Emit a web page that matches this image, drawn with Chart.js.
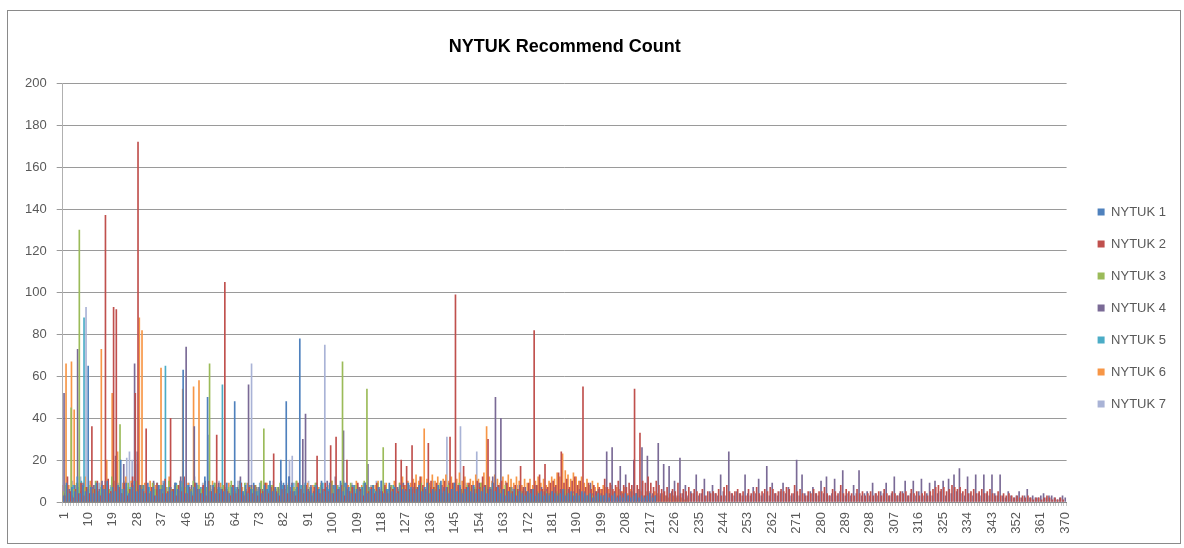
<!DOCTYPE html>
<html>
<head>
<meta charset="utf-8">
<script src="https://cdn.jsdelivr.net/npm/chart.js@4.4.1/dist/chart.umd.min.js"></script>
<style>
  html, body { margin: 0; padding: 0; background: #fff; }
  canvas { display: block; }
</style>
</head>
<body>
<canvas id="myChart" width="1184" height="548"></canvas>
<script>
// category labels 1..370, a tick label shown on every 9th
const categories = Array.from({ length: 370 }, (_, i) => String(i + 1));
const tickEvery = 9;
const yTicks = { min: 0, max: 200, step: 20 };

const seriesNames = ["NYTUK 1", "NYTUK 2", "NYTUK 3", "NYTUK 4", "NYTUK 5", "NYTUK 6", "NYTUK 7"];
const seriesColors = ["#4f81bd", "#c0504d", "#9bbb59", "#7a6a96", "#4bacc6", "#f79646", "#a9b3d6"];

// values (estimates)
const nytuk1 = [
  6, 3, 9, 4, 7, 5, 12, 4, 8, 5,
  65, 7, 4, 9, 5, 8, 6, 10, 4, 7,
  5, 8, 20, 6, 9, 4, 7, 10, 5, 8,
  6, 4, 9, 5, 7, 3, 8, 6, 10, 4,
  7, 5, 9, 6, 10, 63, 4, 8, 5, 7,
  9, 6, 4, 12, 50, 5, 8, 4, 7, 6,
  5, 9, 4, 7, 48, 6, 10, 5, 8, 4,
  6, 9, 5, 7, 4, 8, 6, 10, 5, 7,
  4, 20, 9, 48, 12, 8, 5, 7, 78, 6,
  9, 5, 7, 4, 8, 6, 10, 5, 7, 9,
  4, 8, 6, 10, 5, 9, 7, 4, 8, 6,
  5, 7, 9, 4, 6, 8, 5, 7, 10, 4,
  6, 9, 5, 7, 4, 8, 6, 5, 9, 7,
  4, 6, 8, 5, 7, 9, 4, 6, 5, 8,
  10, 5, 7, 4, 6, 9, 5, 8, 4, 6,
  7, 5, 8, 4, 6, 5, 7, 4, 6, 9,
  5, 7, 4, 6, 3, 5, 4, 6, 3, 5,
  4, 3, 5, 4, 6, 3, 4, 5, 3, 4,
  3, 5, 4, 3, 4, 6, 3, 4, 5, 3,
  4, 3, 5, 4, 3, 4, 2, 3, 4, 3,
  3, 4, 2, 3, 4, 2, 3, 2, 4, 3,
  2, 3, 4, 2, 3, 2, 3, 4, 2, 3
];
const nytuk2 = [
  8, 3, 12, 5, 2, 6, 4, 9, 3, 7,
  4, 36, 6, 10, 3, 8, 137, 11, 5, 93,
  92, 7, 4, 9, 3, 6, 12, 52, 172, 8,
  5, 35, 4, 7, 3, 9, 6, 4, 11, 5,
  40, 6, 3, 8, 5, 12, 4, 7, 3, 9,
  6, 4, 8, 3, 10, 5, 7, 32, 4, 6,
  105, 5, 3, 8, 4, 6, 9, 3, 5, 7,
  4, 8, 3, 6, 5, 9, 4, 7, 23, 5,
  3, 6, 8, 4, 7, 5, 3, 9, 6, 4,
  8, 5, 3, 7, 22, 4, 6, 9, 5, 27,
  4, 31, 6, 8, 3, 20, 5, 7, 4, 9,
  6, 3, 8, 5, 7, 4, 9, 6, 5, 8,
  4, 7, 6, 28, 5, 20, 8, 17, 6, 27,
  9, 7, 12, 8, 6, 28, 10, 7, 9, 6,
  8, 10, 7, 31, 9, 99, 8, 6, 17, 7,
  9, 8, 6, 10, 7, 12, 8, 30, 6, 9,
  7, 8, 10, 6, 9, 7, 5, 8, 6, 17,
  7, 5, 9, 6, 82, 8, 13, 6, 18, 7,
  9, 10, 8, 14, 24, 9, 11, 7, 10, 12,
  8, 10, 55, 7, 9, 6, 8, 5, 7, 6,
  11, 7, 9, 6, 8, 10, 5, 8, 7, 9,
  8, 54, 8, 33, 10, 9, 12, 9, 7, 10,
  8, 6, 5, 7, 4, 6, 5, 9, 4, 6,
  5, 7, 4, 6, 5, 4, 6, 3, 5, 4,
  5, 4, 6, 3, 7, 8, 5, 4, 5, 6,
  4, 5, 3, 6, 4, 5, 7, 4, 5, 6,
  5, 7, 6, 4, 5, 6, 5, 7, 6, 4,
  8, 5, 6, 4, 3, 5, 4, 6, 4, 5,
  5, 7, 4, 3, 6, 5, 4, 8, 4, 6,
  5, 4, 3, 6, 4, 5, 3, 4, 5, 3,
  4, 5, 3, 6, 4, 3, 5, 4, 3, 5,
  4, 5, 3, 6, 4, 5, 3, 4, 5, 3,
  5, 6, 7, 8, 6, 7, 5, 6, 8, 7,
  6, 7, 5, 6, 4, 5, 6, 4, 5, 6,
  4, 5, 6, 4, 3, 5, 3, 4, 3, 4,
  3, 2, 3, 2, 3, 2, 3, 2, 1, 2,
  2, 1, 2, 3, 2, 1, 2, 1, 2, 1
];
const nytuk3 = [
  5, 8, 4, 45, 6, 9, 130, 5, 7, 4,
  8, 6, 10, 5, 7, 4, 9, 6, 12, 5,
  8, 37, 6, 4, 9, 7, 5, 10, 6, 8,
  4, 7, 5, 9, 6, 4, 8, 5, 7, 10,
  6, 4, 8, 5, 9, 7, 4, 6, 10, 5,
  8, 6, 4, 7, 66, 5, 9, 6, 4, 8,
  5, 7, 10, 4, 6, 8, 5, 9, 4, 7,
  6, 8, 5, 10, 35, 6, 4, 8, 5, 7,
  9, 4, 6, 8, 5, 7, 10, 4, 6, 8,
  5, 7, 4, 9, 6, 8, 5, 7, 4, 10,
  6, 8, 5, 67, 7, 4, 9, 6, 8, 5,
  7, 10, 54, 6, 8, 5, 9, 4, 26, 7,
  5, 8, 6, 4, 9, 7, 5, 8, 6, 4,
  7, 5, 9, 6, 4, 8, 5, 7, 6, 9,
  4, 6, 8, 5, 7, 4, 9, 6, 5, 8,
  6, 4, 7, 5, 9, 6, 8, 4, 7, 5,
  4, 6, 5, 8, 4, 7, 5, 6, 4, 5,
  3, 5, 4, 6, 3, 5, 4, 3, 5, 4,
  4, 3, 5, 4, 3, 6, 4, 3, 4, 3,
  3, 4, 2, 3, 4, 3, 2, 4, 3, 2
];
const nytuk4 = [
  52, 4, 6, 3, 8, 73, 5, 9, 4, 6,
  5, 8, 3, 6, 10, 4, 7, 5, 9, 22,
  6, 4, 18, 7, 5, 9, 66, 24, 6, 8,
  4, 7, 5, 10, 6, 3, 8, 5, 4, 7,
  6, 9, 4, 12, 7, 74, 5, 8, 36, 6,
  4, 7, 10, 5, 8, 6, 4, 9, 5, 7,
  6, 4, 8, 5, 7, 12, 4, 6, 56, 8,
  5, 7, 4, 6, 9, 5, 8, 4, 6, 7,
  10, 6, 8, 12, 9, 5, 7, 4, 30, 42,
  6, 8, 5, 9, 4, 7, 6, 10, 5, 8,
  12, 6, 9, 34, 7, 5, 8, 6, 4, 7,
  5, 9, 18, 6, 8, 4, 7, 10, 6, 5,
  8, 6, 4, 7, 5, 9, 6, 8, 4, 7,
  5, 8, 6, 4, 9, 7, 5, 6, 8, 4,
  7, 5, 9, 6, 8, 4, 7, 5, 6, 8,
  4, 7, 6, 9, 5, 8, 6, 7, 12, 50,
  8, 40, 6, 9, 5, 7, 4, 6, 8, 5,
  7, 4, 6, 5, 8, 4, 7, 5, 6, 4,
  5, 7, 4, 6, 5, 4, 6, 3, 5, 4,
  6, 4, 5, 3, 9, 4, 5, 6, 4, 3,
  24, 4, 26, 5, 3, 17, 4, 13, 3, 5,
  20, 4, 6, 26, 3, 22, 5, 4, 3, 28,
  4, 18, 3, 17, 5, 10, 3, 21, 4, 8,
  3, 5, 4, 13, 3, 4, 11, 3, 5, 8,
  4, 3, 13, 5, 3, 24, 4, 3, 5, 4,
  3, 13, 4, 3, 7, 4, 11, 3, 4, 17,
  3, 9, 4, 3, 5, 9, 4, 7, 3, 4,
  20, 3, 13, 4, 3, 5, 7, 4, 3, 10,
  4, 12, 3, 4, 11, 3, 5, 15, 3, 4,
  3, 8, 4, 15, 3, 4, 5, 3, 9, 4,
  3, 5, 4, 9, 3, 4, 12, 3, 4, 5,
  10, 3, 4, 10, 3, 5, 11, 3, 4, 9,
  3, 10, 4, 5, 10, 3, 11, 4, 13, 5,
  16, 4, 3, 12, 4, 3, 13, 4, 3, 13,
  4, 3, 13, 4, 3, 13, 3, 2, 5, 3,
  2, 3, 5, 2, 3, 6, 2, 3, 2, 2,
  3, 4, 2, 3, 3, 2, 1, 2, 3, 2
];
const nytuk5 = [
  4, 6, 3, 8, 5, 7, 10, 88, 6, 4,
  7, 5, 9, 4, 6, 8, 5, 7, 4, 9,
  6, 4, 8, 5, 7, 3, 9, 6, 4, 8,
  5, 7, 4, 6, 9, 5, 8, 65, 4, 7,
  6, 9, 5, 7, 4, 8, 6, 4, 9, 5,
  7, 4, 6, 8, 5, 9, 4, 7, 56, 6,
  5, 8, 4, 7, 6, 9, 5, 4, 8, 6,
  7, 5, 9, 4, 6, 8, 5, 7, 4, 6,
  8, 5, 7, 4, 9, 6, 5, 8, 4, 7,
  6, 4, 8, 5, 7, 9, 4, 6, 5, 8,
  4, 7, 5, 9, 6, 4, 8, 5, 7, 6,
  9, 5, 7, 4, 6, 8, 5, 4, 7, 6,
  5, 8, 4, 6, 7, 5, 9, 4, 6, 5,
  7, 4, 6, 5, 8, 4, 7, 5, 6, 4,
  5, 7, 4, 6, 5, 8, 4, 6, 5, 7,
  4, 6, 5, 7, 4, 5, 6, 4, 5, 3,
  5, 4, 3, 5, 4, 3, 4, 5, 3, 4,
  3, 4, 2, 3, 4, 3, 2, 3, 2, 3
];
const nytuk6 = [
  66, 8, 67, 44, 6, 9, 5, 12, 7, 10,
  6, 9, 5, 73, 8, 20, 6, 52, 10, 24,
  7, 9, 12, 6, 10, 8, 5, 88, 82, 9,
  6, 10, 5, 8, 7, 64, 9, 6, 12, 5,
  8, 6, 10, 54, 7, 9, 5, 55, 8, 58,
  6, 9, 7, 5, 10, 8, 6, 9, 5, 7,
  9, 6, 8, 5, 10, 7, 4, 9, 6, 8,
  5, 7, 10, 6, 9, 5, 8, 6, 7, 4,
  8, 6, 9, 5, 7, 10, 6, 8, 5, 9,
  6, 8, 5, 7, 9, 6, 4, 8, 10, 6,
  7, 5, 9, 6, 8, 4, 7, 10, 6, 8,
  5, 9, 7, 6, 8, 10, 5, 7, 9, 6,
  8, 10, 7, 9, 12, 8, 10, 9, 11, 13,
  10, 12, 35, 11, 9, 13, 10, 12, 9, 11,
  13, 10, 12, 9, 11, 14, 10, 12, 9, 11,
  10, 13, 11, 9, 14, 36, 12, 10, 13, 11,
  9, 12, 10, 13, 11, 9, 12, 10, 8, 11,
  9, 11, 8, 10, 12, 9, 11, 8, 10, 12,
  11, 14, 12, 23, 15, 13, 11, 14, 12, 10,
  12, 9, 11, 8, 10, 7, 9, 6, 8, 7,
  6, 8, 5, 7, 6, 5, 7, 4, 6, 5,
  4, 6, 5, 3, 5, 4, 3, 5, 4, 3,
  4, 3, 2, 4, 3, 2, 3, 2, 1, 2
];
const nytuk7 = [
  8, 5, 10, 6, 9, 12, 7, 93, 10, 6,
  8, 5, 9, 7, 10, 6, 8, 12, 7, 9,
  6, 10, 21, 24, 20, 22, 18, 8, 6, 9,
  7, 5, 9, 6, 8, 10, 5, 7, 9, 6,
  8, 6, 10, 5, 7, 9, 6, 12, 8, 5,
  9, 7, 32, 6, 8, 5, 10, 7, 6, 9,
  5, 8, 6, 10, 7, 5, 9, 6, 66, 8,
  6, 9, 5, 7, 8, 6, 10, 5, 7, 9,
  6, 8, 20, 22, 9, 7, 5, 8, 6, 10,
  7, 5, 9, 6, 8, 75, 6, 9, 5, 7,
  8, 6, 10, 5, 7, 9, 6, 8, 5, 7,
  9, 6, 8, 5, 10, 7, 6, 9, 5, 8,
  6, 8, 5, 7, 9, 6, 8, 5, 7, 6,
  9, 5, 7, 8, 6, 10, 5, 7, 6, 8,
  31, 6, 8, 5, 7, 36, 6, 9, 5, 7,
  8, 24, 6, 9, 5, 7, 6, 8, 5, 7,
  6, 5, 7, 4, 6, 5, 8, 4, 6, 5,
  4, 6, 5, 3, 5, 4, 6, 3, 5, 4,
  5, 4, 6, 3, 4, 5, 3, 4, 3, 5,
  3, 4, 2, 3, 4, 3, 2, 3, 2, 3
];

const seriesValues = [nytuk1, nytuk2, nytuk3, nytuk4, nytuk5, nytuk6, nytuk7];
const font = "'Liberation Sans', Arial, sans-serif";

// white page and the grey frame round the whole chart
const framePlugin = {
  id: "frame",
  beforeDraw(chart) {
    const c = chart.ctx;
    c.save();
    c.fillStyle = "#fff";
    c.fillRect(0, 0, chart.width, chart.height);
    c.strokeStyle = "#8a8a8a";
    c.lineWidth = 1;
    c.strokeRect(7.5, 10.5, 1173, 533);
    c.restore();
  },
};

// category labels written upwards (-90deg), one every 9 categories
const xLabelPlugin = {
  id: "xLabels",
  afterDraw(chart) {
    const xs = chart.scales.x;
    const c = chart.ctx;
    c.save();
    c.font = "13px " + font;
    c.fillStyle = "#595959";
    c.textAlign = "right";
    c.textBaseline = "middle";
    categories.forEach((label, i) => {
      if (i % tickEvery !== 0) return;
      c.save();
      c.translate(xs.getPixelForTick(i), xs.top + 10);
      c.rotate(-Math.PI / 2);
      c.fillText(label, 0, 0);
      c.restore();
    });
    c.restore();
  },
};

const ctx = document.getElementById("myChart").getContext("2d");

const myChart = new Chart(ctx, {
  type: "bar",
  data: {
    labels: categories,
    datasets: seriesNames.map((name, i) => ({
      label: name,
      data: seriesValues[i],
      backgroundColor: seriesColors[i],
      borderWidth: 0,
      barThickness: 1,
    })),
  },
  plugins: [framePlugin, xLabelPlugin],
  options: {
    responsive: false,
    animation: false,
    layout: { padding: { left: 15, right: 8, top: 10, bottom: 42 } },
    plugins: {
      title: {
        display: true,
        text: "NYTUK Recommend Count",
        fullSize: false,
        color: "#000",
        font: { family: font, size: 18, weight: "bold" },
        padding: { top: 26, bottom: 26 },
      },
      legend: {
        position: "right",
        labels: {
          boxWidth: 7,
          boxHeight: 7,
          padding: 19,
          color: "#595959",
          font: { family: font, size: 13 },
        },
        title: { display: true, text: "", font: { size: 10 }, padding: { top: 44, bottom: 44 } },
      },
      tooltip: { enabled: false },
    },
    scales: {
      x: {
        grid: { drawOnChartArea: false, drawTicks: true, tickLength: 4, color: "#c8c8c8" },
        border: { color: "#8a8a8a" },
        ticks: { display: false, autoSkip: false },
      },
      y: {
        min: yTicks.min,
        max: yTicks.max,
        grid: { color: "#9a9a9a", tickLength: 6 },
        border: { color: "#b0b0b0" },
        ticks: {
          stepSize: yTicks.step,
          padding: 10,
          color: "#595959",
          font: { family: font, size: 13 },
        },
      },
      yRight: {
        position: "right",
        display: true,
        grid: { display: false },
        border: { display: false },
        ticks: { display: false },
        afterFit: (scale) => {
          scale.width = 12;
        },
      },
    },
  },
});
</script>
</body>
</html>
